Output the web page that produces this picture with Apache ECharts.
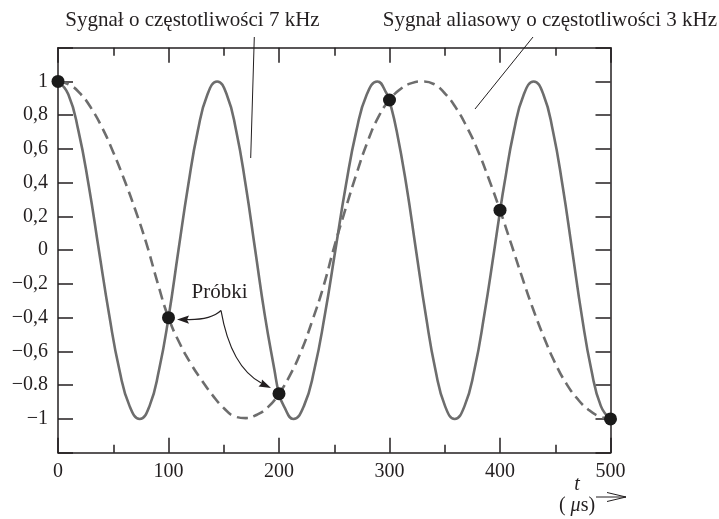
<!DOCTYPE html>
<html>
<head>
<meta charset="utf-8">
<script src="https://cdn.jsdelivr.net/npm/echarts/dist/echarts.min.js"></script>
<style>
html,body{margin:0;padding:0;background:#fff;}
#chart{width:719px;height:519px;}
</style>
</head>
<body>
<div id="chart"></div>
<script>
// ---- data (t in µs) ----
// 7 kHz signal: points (extrema, crossings and in-between)
const solidT = [0,9.3,18.5,27.8,37,46.3,55.5,64.8,74,
  82.8,91.5,100,109,117.8,126.5,135.3,144,
  152.6,161.3,169.9,178.5,187.1,195.8,200,204.4,213,
  222.5,232,241.5,251,260.5,270,279.5,289,
  297.8,300,306.5,315.3,324,332.8,341.5,350.3,359,
  367.9,376.9,385.8,394.8,400,403.7,412.6,421.6,430.5,
  439.2,447.9,456.6,465.3,473.9,482.6,491.3,500];
const solidV = [1,0.924,0.707,0.383,0,-0.383,-0.707,-0.924,-1,
  -0.924,-0.707,-0.40,0,0.383,0.707,0.924,1,
  0.924,0.707,0.383,0,-0.383,-0.707,-0.85,-0.924,-1,
  -0.924,-0.707,-0.383,0,0.383,0.707,0.924,1,
  0.924,0.885,0.707,0.383,0,-0.383,-0.707,-0.924,-1,
  -0.924,-0.707,-0.383,0,0.23,0.383,0.707,0.924,1,
  0.924,0.707,0.383,0,-0.383,-0.707,-0.924,-1];
// 3 kHz alias: read every 10 µs along the dashed curve
const dashedT = [0,10,20,30,40,50,60,70,80,90,100,110,120,130,140,150,160,170,180,190,200,210,220,230,240,250,260,270,280,290,300,310,320,330,340,350,360,370,380,390,400,410,420,430,440,450,460,470,480,490,500];
const dashedV = [1,0.982,0.929,0.842,0.725,0.581,0.417,0.238,0.04,-0.19,-0.40,-0.55,-0.67,-0.77,-0.86,-0.935,-0.985,-0.995,-0.975,-0.93,-0.85,-0.74,-0.60,-0.42,-0.22,0.02,0.24,0.45,0.64,0.79,0.89,0.955,0.99,1,0.985,0.93,0.845,0.73,0.59,0.42,0.237,0.04,-0.16,-0.35,-0.52,-0.67,-0.79,-0.88,-0.945,-0.985,-1];
const sampleT = [0,100,200,300,400,500];
const sampleV = [1,-0.40,-0.85,0.89,0.237,-1];
const yTickValues = [-1,-0.8,-0.6,-0.4,-0.2,0,0.2,0.4,0.6,0.8,1];
const yTickLabels = ['\u22121','\u22120.8','\u22120,6','\u22120,4','\u22120,2','0','0,2','0,4','0,6','0,8','1'];
const xTickLabels = ['0','100','200','300','400','500'];
const labelSolid = 'Sygnał o częstotliwości 7 kHz';
const labelAlias = 'Sygnał aliasowy o częstotliwości 3 kHz';
const labelSamples = 'Próbki';

// ---- build ----
const zip = (a, b) => a.map((t, i) => [t, b[i]]);
const FONT = 'Liberation Serif';
const INK = '#231f20';
const CURVE = '#6d6d6d';

function yLabel(v) {
  const r = Math.round(v * 10) / 10;
  const idx = yTickValues.findIndex(t => Math.abs(t - r) < 1e-6);
  return idx >= 0 ? yTickLabels[idx] : '';
}
function xLabel(v) {
  const idx = Math.round(v / 100);
  return (Math.abs(v - idx * 100) < 1e-6 && xTickLabels[idx] !== undefined) ? xTickLabels[idx] : '';
}

const axisLineStyle = { color: INK, width: 1.5 };
const tickStyle = { color: INK, width: 1.5 };

const chart = echarts.init(document.getElementById('chart'), null, { renderer: 'canvas' });
chart.setOption({
  animation: false,
  backgroundColor: '#fff',
  grid: { left: 58, right: 108.5, top: 47.7, bottom: 66.3 },
  xAxis: [
    {
      type: 'value', position: 'bottom', min: 0, max: 500, interval: 100,
      axisLine: { show: true, onZero: false, lineStyle: axisLineStyle },
      axisTick: { show: true, inside: true, length: 15, lineStyle: tickStyle },
      minorTick: { show: true, splitNumber: 2, length: 8, lineStyle: tickStyle },
      splitLine: { show: false },
      axisLabel: { formatter: xLabel, fontFamily: FONT, fontSize: 20, color: INK, margin: 9 }
    },
    {
      type: 'value', position: 'top', min: 0, max: 500, interval: 100,
      axisLine: { show: true, onZero: false, lineStyle: axisLineStyle },
      axisTick: { show: true, inside: true, length: 15, lineStyle: tickStyle },
      minorTick: { show: true, splitNumber: 2, length: 8, lineStyle: tickStyle },
      splitLine: { show: false },
      axisLabel: { show: false }
    }
  ],
  yAxis: [
    {
      type: 'value', position: 'left', min: -1.2, max: 1.2, interval: 0.2,
      axisLine: { show: true, onZero: false, lineStyle: axisLineStyle },
      axisTick: { show: true, inside: true, length: 15, lineStyle: tickStyle },
      splitLine: { show: false },
      axisLabel: { formatter: yLabel, fontFamily: FONT, fontSize: 20, color: INK, margin: 10 }
    },
    {
      type: 'value', position: 'right', min: -1.2, max: 1.2, interval: 0.2,
      axisLine: { show: true, onZero: false, lineStyle: axisLineStyle },
      axisTick: { show: true, inside: true, length: 15, lineStyle: tickStyle },
      splitLine: { show: false },
      axisLabel: { show: false }
    }
  ],
  series: [
    {
      name: '7 kHz', type: 'line', data: zip(solidT, solidV), smooth: true,
      showSymbol: false, symbol: 'none',
      lineStyle: { color: CURVE, width: 2.6 }, z: 2
    },
    {
      name: '3 kHz', type: 'line', data: zip(dashedT, dashedV), smooth: true,
      showSymbol: false, symbol: 'none',
      lineStyle: { color: CURVE, width: 2.6, type: [11, 6] }, z: 2
    },
    {
      name: 'samples', type: 'scatter', data: zip(sampleT, sampleV),
      symbol: 'circle', symbolSize: 13,
      itemStyle: { color: '#1a1a1a', opacity: 1 }, z: 5
    }
  ],
  graphic: [
    { type: 'text', x: 192.5, y: 20, z: 10,
      style: { text: labelSolid, fontFamily: FONT, fontSize: 21, fill: INK, align: 'center', verticalAlign: 'middle' } },
    { type: 'text', x: 717, y: 20, z: 10,
      style: { text: labelAlias, fontFamily: FONT, fontSize: 21, fill: INK, align: 'right', verticalAlign: 'middle' } },
    { type: 'line', z: 10, shape: { x1: 254.3, y1: 37, x2: 250.7, y2: 158 }, style: { stroke: INK, lineWidth: 1 } },
    { type: 'line', z: 10, shape: { x1: 533, y1: 37, x2: 475, y2: 109 }, style: { stroke: INK, lineWidth: 1 } },
    { type: 'text', x: 219.5, y: 292, z: 10,
      style: { text: labelSamples, fontFamily: FONT, fontSize: 21, fill: INK, align: 'center', verticalAlign: 'middle' } },
    { type: 'bezierCurve', z: 10,
      shape: { x1: 221, y1: 310.5, cpx1: 214, cpy1: 317, cpx2: 202, cpy2: 320, x2: 186, y2: 319.5 },
      style: { stroke: INK, lineWidth: 1.2, fill: null } },
    { type: 'polygon', z: 10, shape: { points: [[177, 319.5], [189, 315.5], [187, 319.8], [189, 323.8]] }, style: { fill: INK } },
    { type: 'bezierCurve', z: 10,
      shape: { x1: 221, y1: 310.5, cpx1: 227, cpy1: 345, cpx2: 240, cpy2: 372, x2: 262, y2: 383.5 },
      style: { stroke: INK, lineWidth: 1.2, fill: null } },
    { type: 'polygon', z: 10, shape: { points: [[271, 388], [258.5, 386.5], [261.5, 383.5], [262, 379.5]] }, style: { fill: INK } },
    { type: 'text', x: 577, y: 485, z: 10,
      style: { text: 't', fontFamily: FONT, fontSize: 20, fontStyle: 'italic', fill: INK, align: 'center', verticalAlign: 'middle' } },
    { type: 'text', x: 577, y: 506, z: 10,
      style: { text: '{n|( }{i|μ}{n|s)}', align: 'center', verticalAlign: 'middle',
        rich: { n: { fontFamily: FONT, fontSize: 20, fill: INK }, i: { fontFamily: FONT, fontSize: 20, fontStyle: 'italic', fill: INK } } } },
    { type: 'line', z: 10, shape: { x1: 596, y1: 497, x2: 626, y2: 497 }, style: { stroke: INK, lineWidth: 1 } },
    { type: 'polyline', z: 10, shape: { points: [[607, 492.5], [626, 497], [607, 501.5]] }, style: { stroke: INK, lineWidth: 1, fill: null } }
  ]
});
</script>
</body>
</html>
